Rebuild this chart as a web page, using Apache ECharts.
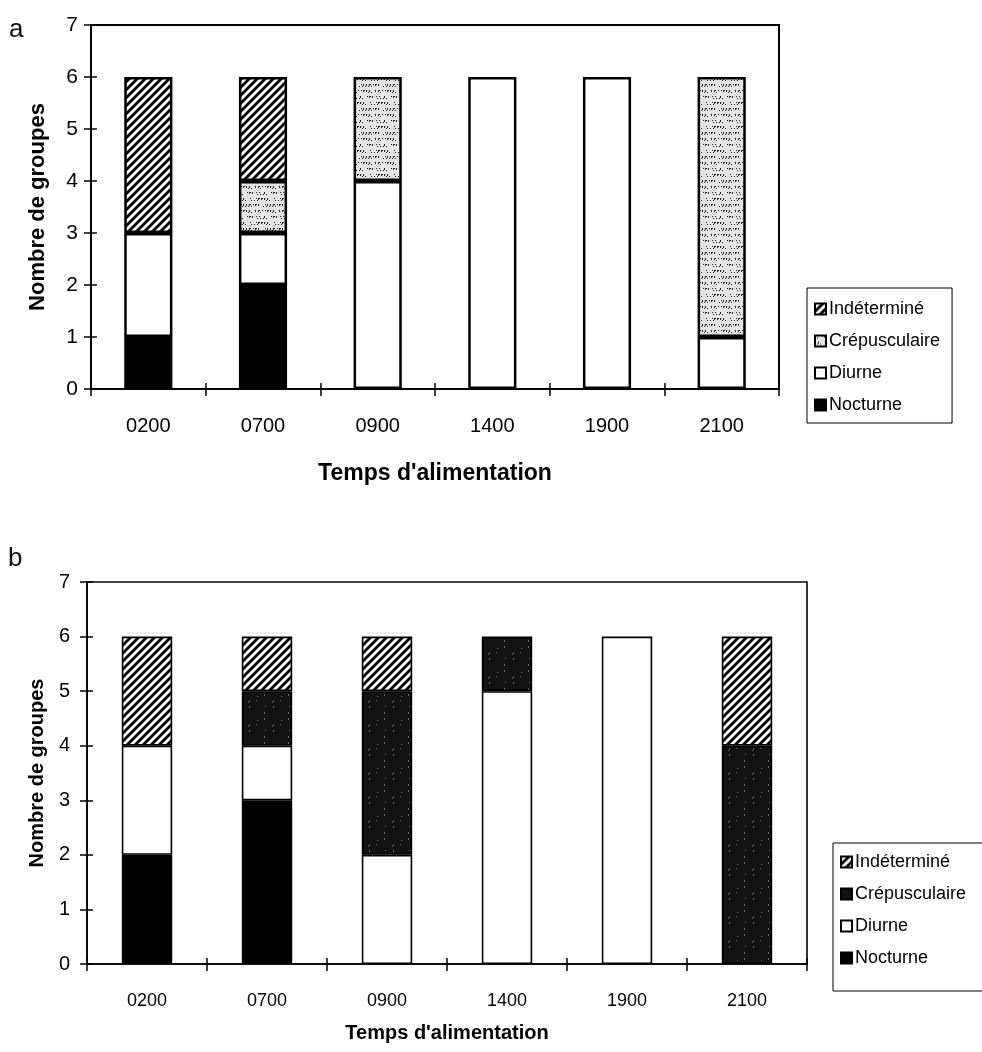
<!DOCTYPE html>
<html>
<head>
<meta charset="utf-8">
<script src="https://cdn.jsdelivr.net/npm/echarts@6/dist/echarts.min.js"></script>
<style>
  html, body { margin: 0; padding: 0; background: #fff; }
  #a { position: absolute; left: 0; top: 0; width: 982px; height: 520px; }
  #b { position: absolute; left: 0; top: 520px; width: 982px; height: 532px; }
</style>
</head>
<body>
<div id="a"></div>
<div id="b"></div>
<script>
// ---- data ----
const categories = ['0200', '0700', '0900', '1400', '1900', '2100'];
const legendOrder = ['Indéterminé', 'Crépusculaire', 'Diurne', 'Nocturne'];

// panel a
const aNocturne      = [1, 2, 0, 0, 0, 0];
const aDiurne        = [2, 1, 4, 6, 6, 1];
const aCrepusculaire = [0, 1, 2, 0, 0, 5];
const aIndetermine   = [3, 2, 0, 0, 0, 0];

// panel b
const bNocturne      = [2, 3, 0, 0, 0, 0];
const bDiurne        = [2, 1, 2, 5, 6, 0];
const bCrepusculaire = [0, 1, 3, 1, 0, 4];
const bIndetermine   = [2, 1, 1, 0, 0, 2];

// ---- fill textures ----
function hatch() {
  const c = document.createElement('canvas');
  c.width = 8; c.height = 8;
  const g = c.getContext('2d');
  g.fillStyle = '#fff'; g.fillRect(0, 0, 8, 8);
  g.strokeStyle = '#000'; g.lineWidth = 2.8;
  g.beginPath();
  g.moveTo(-2, 10); g.lineTo(10, -2);
  g.moveTo(-6, 6); g.lineTo(6, -6);
  g.moveTo(2, 14); g.lineTo(14, 2);
  g.stroke();
  return c;
}
function stipple(base, dot, n) {
  const s = 24;
  const c = document.createElement('canvas');
  c.width = s; c.height = s;
  const g = c.getContext('2d');
  g.fillStyle = base; g.fillRect(0, 0, s, s);
  g.fillStyle = dot;
  for (let i = 0; i < n; i++) {
    const x = (i * 37 + (i % 5) * 3) % s;
    const y = (i * 53 + i * i * 7) % s;
    g.fillRect(x, y, 1, (i % 3 === 0) ? 2 : 1);
  }
  return c;
}
const hatchFill = { image: hatch(), repeat: 'repeat' };
const lightSpeckle = { image: stipple('#e4e4e4', '#222', 60), repeat: 'repeat' };
const darkSpeckle = { image: stipple('#121212', '#6a6a6a', 10), repeat: 'repeat' };

const FONT = "'Liberation Sans', Arial, Helvetica, sans-serif";
const nz = arr => arr.map(v => (v === 0 ? '-' : v));

function buildOption(cfg) {
  const plotW = cfg.W - cfg.grid[0] - cfg.grid[1];
  const plotH = cfg.H - cfg.grid[2] - cfg.grid[3];
  const mk = (name, data, color) => ({
    name, type: 'bar', stack: 'tot', data: nz(data), barWidth: '42%',
    itemStyle: { color, borderColor: '#000', borderWidth: cfg.barBorder },
    emphasis: { disabled: true }, animation: false
  });
  const tickStyle = { color: '#000', width: 1.5 };
  return {
    animation: false,
    backgroundColor: '#fff',
    grid: { left: cfg.grid[0], right: cfg.grid[1], top: cfg.grid[2], bottom: cfg.grid[3],
            show: true, borderColor: '#000', borderWidth: cfg.axisW, backgroundColor: 'transparent' },
    xAxis: [
      {
        type: 'category', data: categories, position: 'bottom',
        axisLine: { show: true, lineStyle: { color: '#000', width: cfg.axisW } },
        axisTick: { show: true, inside: false, length: 7, lineStyle: tickStyle },
        axisLabel: { color: '#000', fontSize: cfg.xLabelSize, fontFamily: FONT, margin: cfg.xLabelMargin },
        splitLine: { show: false },
        name: "Temps d'alimentation", nameLocation: 'middle', nameGap: cfg.xNameGap,
        nameTextStyle: { color: '#000', fontSize: cfg.xNameSize, fontWeight: 'bold', fontFamily: FONT }
      },
      {
        // second copy of the category axis, moved down onto the bottom axis: ticks pointing up
        type: 'category', data: categories, position: 'top', offset: -plotH,
        axisLine: { show: false },
        axisTick: { show: true, inside: false, length: 6, lineStyle: tickStyle },
        axisLabel: { show: false }, splitLine: { show: false }
      }
    ],
    yAxis: [
      {
        type: 'value', min: 0, max: 7, interval: 1, position: 'left',
        axisLine: { show: true, lineStyle: { color: '#000', width: cfg.axisW } },
        axisTick: { show: true, inside: false, length: 7, lineStyle: tickStyle },
        axisLabel: { color: '#000', fontSize: cfg.yLabelSize, fontFamily: FONT, margin: cfg.yLabelMargin },
        splitLine: { show: false },
        name: 'Nombre de groupes', nameLocation: 'middle', nameGap: cfg.yNameGap, nameRotate: 90,
        nameTextStyle: { color: '#000', fontSize: cfg.yNameSize, fontWeight: 'bold', fontFamily: FONT }
      },
      {
        // second copy of the value axis, moved left onto the left axis: ticks pointing right
        type: 'value', min: 0, max: 7, interval: 1, position: 'right', offset: -plotW,
        axisLine: { show: false },
        axisTick: { show: true, inside: false, length: 6, lineStyle: tickStyle },
        axisLabel: { show: false }, splitLine: { show: false }
      }
    ],
    legend: {
      orient: 'vertical', left: cfg.legend.left, top: cfg.legend.top,
      data: legendOrder, icon: 'rect', itemWidth: 11, itemHeight: 11,
      itemGap: cfg.legend.gap, padding: cfg.legend.padding,
      borderColor: '#000', borderWidth: 1, selectedMode: false,
      textStyle: { color: '#000', fontSize: cfg.legend.fontSize, fontFamily: FONT, padding: [0, 0, 0, -2] }
    },
    graphic: [{
      type: 'text', left: cfg.letter.left, top: cfg.letter.top,
      style: { text: cfg.letter.text, fontSize: 26, fontFamily: FONT, fill: '#111' }
    }],
    series: [
      mk('Nocturne', cfg.data[0], '#000'),
      mk('Diurne', cfg.data[1], '#fff'),
      mk('Crépusculaire', cfg.data[2], cfg.crepColor),
      mk('Indéterminé', cfg.data[3], hatchFill)
    ]
  };
}

const chartA = echarts.init(document.getElementById('a'), null, { renderer: 'canvas' });
chartA.setOption(buildOption({
  W: 982, H: 520,
  grid: [91, 203, 25, 131], axisW: 2, barBorder: 2.5,
  xLabelSize: 20, xLabelMargin: 27, xNameGap: 73, xNameSize: 23,
  yLabelSize: 21, yLabelMargin: 13, yNameGap: 42, yNameSize: 22,
  legend: { left: 807, top: 288, gap: 14, padding: [12, 12, 9, 7], fontSize: 18 },
  letter: { text: 'a', left: 9, top: 17 },
  crepColor: lightSpeckle,
  data: [aNocturne, aDiurne, aCrepusculaire, aIndetermine]
}));

const chartB = echarts.init(document.getElementById('b'), null, { renderer: 'canvas' });
chartB.setOption(buildOption({
  W: 982, H: 532,
  grid: [87, 175, 62, 88], axisW: 1.6, barBorder: 1.6,
  xLabelSize: 18, xLabelMargin: 28, xNameGap: 59, xNameSize: 20,
  yLabelSize: 20, yLabelMargin: 17, yNameGap: 40, yNameSize: 20,
  legend: { left: 833, top: 323, gap: 14, padding: [10, 60, 24, 7], fontSize: 18 },
  letter: { text: 'b', left: 8, top: 26 },
  crepColor: darkSpeckle,
  data: [bNocturne, bDiurne, bCrepusculaire, bIndetermine]
}));
</script>
</body>
</html>
